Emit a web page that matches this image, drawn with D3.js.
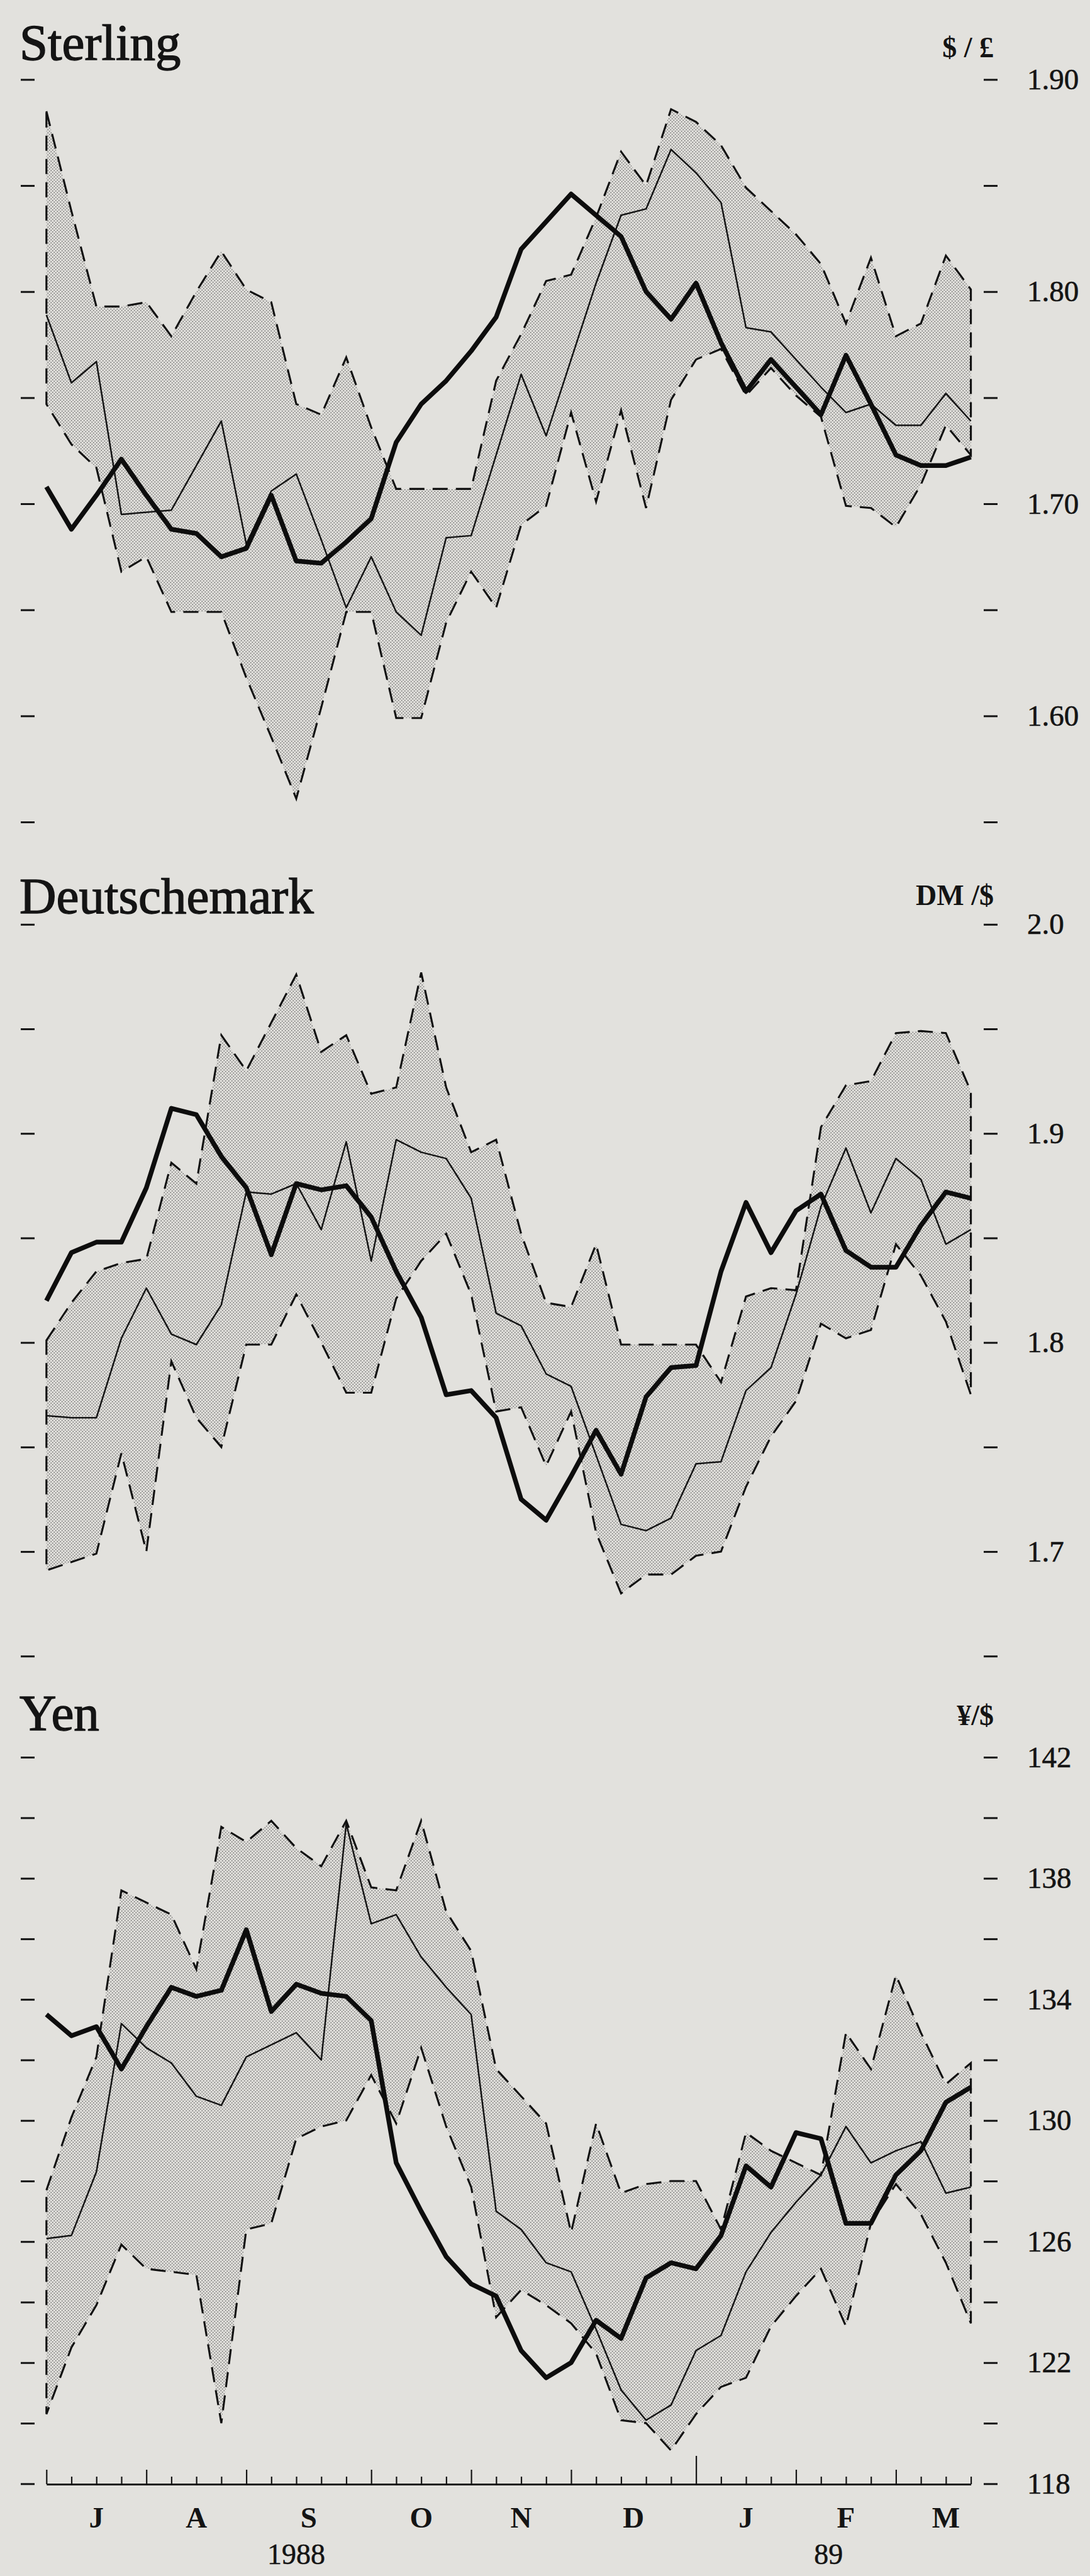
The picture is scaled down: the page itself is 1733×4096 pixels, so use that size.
<!DOCTYPE html>
<html>
<head>
<meta charset="utf-8">
<script src="https://cdn.jsdelivr.net/npm/d3@7"></script>
<style>
  body { margin: 0; background: #e2e1dd; }
  svg { display: block; }
  text { font-family: "Liberation Serif", "Times New Roman", serif; fill: #141414; }
</style>
</head>
<body>
<div id="plot"></div>
<script>
// weekly observations, July 1988 - March 1989 (38 weeks)
monthLabels = ["J", "A", "S", "O", "N", "D", "J", "F", "M"]
monthStarts = [0, 4, 8, 13, 17, 21, 26, 30, 34, 38]
yearLabels = ["1988", "89"]
yearWeeks = [10, 31.3]

// Sterling, $/£
stHigh = [1.885,1.838,1.793,1.793,1.795,1.779,1.800,1.819,1.801,1.795,1.747,1.742,1.769,1.736,1.707,1.707,1.707,1.707,1.758,1.780,
          1.805,1.808,1.835,1.866,1.850,1.886,1.880,1.869,1.849,1.838,1.827,1.813,1.785,1.816,1.779,1.785,1.817,1.801]
stLow = [1.747,1.728,1.717,1.668,1.675,1.649,1.649,1.649,1.618,1.590,1.561,1.604,1.649,1.649,1.599,1.599,1.644,1.668,1.651,1.690,
         1.699,1.743,1.701,1.744,1.698,1.749,1.768,1.773,1.751,1.764,1.751,1.741,1.699,1.698,1.689,1.709,1.737,1.723]
stMean = [1.789,1.757,1.767,1.695,1.696,1.697,1.718,1.739,1.681,1.706,1.714,1.683,1.651,1.675,1.649,1.638,1.684,1.685,1.723,1.761,
          1.732,1.768,1.804,1.836,1.839,1.867,1.856,1.842,1.783,1.781,1.768,1.755,1.743,1.747,1.737,1.737,1.752,1.739]
stActual = [1.708,1.688,1.704,1.721,1.704,1.688,1.686,1.675,1.679,1.704,1.673,1.672,1.682,1.693,1.729,1.747,1.758,1.772,1.788,1.820,
            1.833,1.846,1.836,1.826,1.800,1.787,1.804,1.776,1.753,1.768,1.755,1.742,1.770,1.747,1.723,1.718,1.718,1.722]
stTicks = [1.55, 1.60, 1.65, 1.70, 1.75, 1.80, 1.85, 1.90]
stLabels = {"1.6": "1.60", "1.7": "1.70", "1.8": "1.80", "1.9": "1.90"}

// Deutschemark, DM/$
dmHigh = [1.801,1.819,1.834,1.838,1.840,1.886,1.876,1.947,1.930,1.953,1.976,1.939,1.947,1.919,1.922,1.977,1.922,1.891,1.897,1.852,
          1.819,1.817,1.847,1.799,1.799,1.799,1.799,1.781,1.822,1.826,1.825,1.903,1.923,1.925,1.948,1.949,1.948,1.920]
dmLow = [1.691,1.695,1.699,1.747,1.700,1.791,1.764,1.750,1.799,1.799,1.823,1.800,1.776,1.776,1.821,1.839,1.852,1.823,1.767,1.769,
         1.741,1.767,1.709,1.680,1.689,1.689,1.698,1.700,1.731,1.755,1.772,1.809,1.802,1.806,1.847,1.832,1.810,1.775]
dmMean = [1.765,1.764,1.764,1.802,1.826,1.804,1.799,1.818,1.872,1.871,1.876,1.854,1.896,1.839,1.897,1.891,1.888,1.869,1.814,1.808,
          1.785,1.779,1.746,1.713,1.710,1.716,1.742,1.743,1.777,1.788,1.823,1.865,1.893,1.862,1.888,1.878,1.847,1.854]
dmActual = [1.820,1.843,1.848,1.848,1.874,1.912,1.909,1.889,1.874,1.842,1.876,1.873,1.875,1.860,1.834,1.812,1.775,1.777,1.764,1.725,
            1.715,1.736,1.758,1.737,1.774,1.788,1.789,1.834,1.867,1.843,1.863,1.871,1.844,1.836,1.836,1.856,1.872,1.869]
dmTicks = [1.65, 1.70, 1.75, 1.80, 1.85, 1.90, 1.95, 2.0]
dmLabels = {"1.7": "1.7", "1.8": "1.8", "1.9": "1.9", "2": "2.0"}

// Yen, ¥/$
yenHigh = [127.7,130.1,132.1,137.6,137.2,136.8,135.0,139.7,139.2,139.9,139.0,138.4,139.9,137.7,137.6,139.9,136.9,135.6,131.7,130.8,
           129.9,126.3,129.9,127.6,127.9,128.0,128.0,126.4,129.6,129.0,128.6,128.2,132.9,131.7,134.8,132.9,131.2,131.9]
yenLow = [120.3,122.5,123.9,125.9,125.1,125.0,124.9,120.0,126.4,126.6,129.4,129.8,130.0,131.5,129.9,132.4,129.8,127.8,123.5,124.4,
          123.9,123.3,122.3,120.1,120.0,119.1,120.3,121.2,121.5,123.2,124.2,125.1,123.2,126.6,127.9,126.9,125.3,123.3]
yenMean = [126.1,126.2,128.3,133.2,132.4,131.9,130.8,130.5,132.1,132.5,132.9,132.0,139.8,136.5,136.8,135.4,134.4,133.5,127.0,126.4,
           125.3,125.0,123.1,121.1,120.1,120.6,122.4,122.9,125.0,126.3,127.3,128.2,129.8,128.6,129.0,129.3,127.6,127.8]
yenActual = [133.5,132.8,133.1,131.7,133.1,134.4,134.1,134.3,136.3,133.6,134.5,134.2,134.1,133.3,128.6,127.0,125.5,124.6,124.2,122.4,
             121.5,122.0,123.4,122.8,124.8,125.3,125.1,126.2,128.5,127.8,129.6,129.4,126.6,126.6,128.2,129.0,130.6,131.1]
yenTicks = [118, 120, 122, 124, 126, 128, 130, 132, 134, 136, 138, 140, 142]
yenLabels = {"142": "142", "138": "138", "134": "134", "130": "130", "126": "126", "122": "122", "118": "118"}

W = 1733, H = 4096

svg = d3.select("#plot").append("svg").attr("width", W).attr("height", H).attr("viewBox", [0, 0, W, H])

// halftone dots for the forecast range
pat = svg.append("defs").append("pattern").attr("id", "dots")
  .attr("width", 5).attr("height", 5).attr("patternUnits", "userSpaceOnUse")
pat.append("rect").attr("width", 5).attr("height", 5).attr("fill", "#dcdbd7")
pat.append("circle").attr("cx", 1.25).attr("cy", 1.25).attr("r", 0.75).attr("fill", "#4a4a4a")
pat.append("circle").attr("cx", 3.75).attr("cy", 3.75).attr("r", 0.75).attr("fill", "#4a4a4a")

x = d3.scaleLinear().domain([0, 37]).range([73.8, 1543.6])

panels = [
  {title: "Sterling", unit: "$ / £", high: stHigh, low: stLow, mean: stMean, actual: stActual,
   ticks: stTicks, labels: stLabels, domain: [1.55, 1.90], range: [1307, 126.4], titleY: 95, unitY: 91},
  {title: "Deutschemark", unit: "DM /$", high: dmHigh, low: dmLow, mean: dmMean, actual: dmActual,
   ticks: dmTicks, labels: dmLabels, domain: [1.65, 2.0], range: [2633.3, 1469.8], titleY: 1452, unitY: 1439},
  {title: "Yen", unit: "¥/$", high: yenHigh, low: yenLow, mean: yenMean, actual: yenActual,
   ticks: yenTicks, labels: yenLabels, domain: [118, 142], range: [3949.3, 2794.1], titleY: 2751, unitY: 2743}
]

panels.forEach(p => {
  const y = d3.scaleLinear().domain(p.domain).range(p.range)
  const g = svg.append("g")

  const band = d3.area().x((d, i) => x(i)).y0((d, i) => y(p.low[i])).y1(d => y(d))
  g.append("path")
    .attr("d", band(p.high))
    .attr("fill", "url(#dots)")
    .attr("stroke", "#111")
    .attr("stroke-width", 3.1)
    .attr("stroke-dasharray", "24,13")

  const line = d3.line().x((d, i) => x(i)).y(d => y(d))
  g.append("path").attr("d", line(p.mean))
    .attr("fill", "none").attr("stroke", "#141414").attr("stroke-width", 2.5).attr("stroke-linejoin", "round")
  g.append("path").attr("d", line(p.actual))
    .attr("fill", "none").attr("stroke", "#0d0d0d").attr("stroke-width", 7.5).attr("stroke-linejoin", "round")

  // right-hand value axis: short marks, labels set apart
  const right = g.append("g").attr("transform", "translate(1564,0)")
    .call(d3.axisRight(y).tickValues(p.ticks).tickSize(22).tickPadding(47)
      .tickFormat(d => p.labels[String(+d.toFixed(2))] || ""))
  right.select(".domain").remove()
  right.selectAll(".tick line").attr("stroke", "#141414").attr("stroke-width", 3)
  right.selectAll(".tick text").attr("font-size", 47).attr("font-family", "Liberation Serif")
    .attr("fill", "#141414").attr("stroke", "#141414").attr("stroke-width", 0.6)

  const left = g.append("g").attr("transform", "translate(55,0)")
    .call(d3.axisLeft(y).tickValues(p.ticks).tickSize(22).tickFormat(""))
  left.select(".domain").remove()
  left.selectAll(".tick line").attr("stroke", "#141414").attr("stroke-width", 3)

  g.append("text").attr("x", 31).attr("y", p.titleY).attr("font-size", 81)
    .attr("stroke", "#141414").attr("stroke-width", 1.4).text(p.title)
  g.append("text").attr("x", 1580).attr("y", p.unitY).attr("text-anchor", "end")
    .attr("font-size", 46).attr("font-weight", "bold").text(p.unit)
})

// time axis with weekly ticks
tickLen = d => d === 26 ? 45 : (monthStarts.includes(d) ? 23 : 12)
xa = svg.append("g").attr("transform", "translate(0,3950)")
  .call(d3.axisTop(x).tickValues(d3.range(0, 38)).tickSize(12).tickSizeOuter(0).tickFormat(""))
xa.select(".domain").attr("stroke", "#141414").attr("stroke-width", 2.8)
xa.selectAll(".tick line").attr("y2", d => -tickLen(d)).attr("stroke", "#141414").attr("stroke-width", 2.2)

svg.append("g").selectAll("text").data(monthLabels).join("text")
  .attr("x", (d, i) => x((monthStarts[i] + monthStarts[i + 1]) / 2))
  .attr("y", 4019).attr("text-anchor", "middle")
  .attr("font-size", 47).attr("font-weight", "bold")
  .text(d => d)

svg.append("g").selectAll("text").data(yearLabels).join("text")
  .attr("x", (d, i) => x(yearWeeks[i]))
  .attr("y", 4077).attr("text-anchor", "middle")
  .attr("font-size", 46).attr("stroke", "#141414").attr("stroke-width", 0.5)
  .text(d => d)
</script>
</body>
</html>
